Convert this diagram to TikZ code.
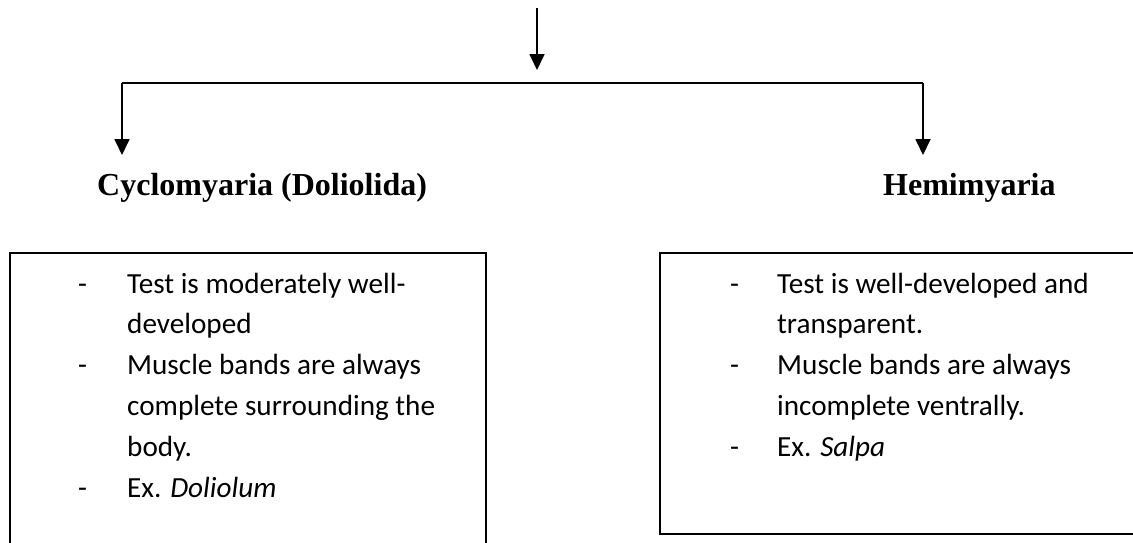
\documentclass[tikz,border=0pt]{standalone}
\usepackage{fontspec}
\setmainfont{Liberation Serif}
\newfontfamily\boxfont{Carlito}
\usetikzlibrary{arrows.meta}
\begin{document}
\begin{tikzpicture}[x=1pt,y=-1pt,
  conn/.style={line width=1.8pt,-{Triangle[width=15pt,length=16pt]}},
  bar/.style={line width=1.3pt},
  frame/.style={draw,line width=1.6pt,inner sep=0pt,outer sep=0pt},
  heading/.style={font={\fontsize{32}{38}\selectfont\bfseries},inner sep=0pt,anchor=base west},
  item/.style={font={\boxfont\fontsize{29.2}{35}\selectfont},inner sep=0pt,anchor=base west}]
\useasboundingbox (0,0) rectangle (1133,542);
\clip (0,0) rectangle (1133,542);

% boxes
\node[frame, minimum width=476pt, minimum height=330pt, anchor=north west] (lbox) at (10,253) {};
\node[frame, minimum width=520pt, minimum height=281pt, anchor=north west] (rbox) at (660,253) {};

% headings
\node[heading] (cyc) at (97,195) {Cyclomyaria (Doliolida)};
\node[heading] (hemi) at (883,195) {Hemimyaria};

% connectors
\coordinate (src) at (537,8);
\coordinate (srcend) at (537,70);
\draw[conn] (src) -- (srcend);
\coordinate (bl) at (122,83);
\coordinate (br) at (923,83);
\coordinate (tl) at (122,155);
\coordinate (tr) at (923,155);
\draw[bar] (bl) -- (br);
\draw[conn] (bl) -- (tl);
\draw[conn] (br) -- (tr);

% left list
\node[item] (ld1) at (78,293) {-};
\node[item] (l1) at (127,293) {Test is moderately well-};
\node[item] (l2) at (127,333.8) {developed};
\node[item] (ld2) at (78,374.6) {-};
\node[item] (l3) at (127,374.6) {Muscle bands are always};
\node[item] (l4) at (127,415.4) {complete surrounding the};
\node[item] (l5) at (127,456.2) {body.};
\node[item] (ld3) at (78,497) {-};
\node[item] (l6) at (127,497) {Ex. \textit{Doliolum}};

% right list
\node[item] (rd1) at (730,293) {-};
\node[item] (r1) at (777,293) {Test is well-developed and};
\node[item] (r2) at (777,333.8) {transparent.};
\node[item] (rd2) at (730,374.6) {-};
\node[item] (r3) at (777,374.6) {Muscle bands are always};
\node[item] (r4) at (777,415.4) {incomplete ventrally.};
\node[item] (rd3) at (730,456.2) {-};
\node[item] (r5) at (777,456.2) {Ex. \textit{Salpa}};
\end{tikzpicture}
\end{document}
